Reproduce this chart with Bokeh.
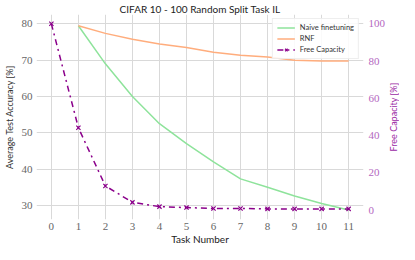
import math
from bokeh.plotting import figure
from bokeh.models import Range1d, LinearAxis, FixedTicker, Label
from bokeh.embed import file_html
from bokeh.resources import INLINE

tasks = list(range(12))
tasks_from_1 = list(range(1, 12))
naive_finetuning = [79.5, 69.0, 60.0, 52.5, 47.0, 42.0, 37.3, 35.0, 32.6, 30.5, 28.7]
rnf = [79.5, 77.4, 75.8, 74.5, 73.5, 72.2, 71.4, 70.9, 70.0, 69.8, 69.8]
free_capacity = [100, 44.2, 13.0, 4.2, 1.9, 1.4, 0.9, 0.9, 0.7, 0.7, 0.7, 0.7]
left_ticks = [30, 40, 50, 60, 70, 80]
right_ticks = [0, 20, 40, 60, 80, 100]

SANS = "Lato"
SERIF = "Liberation Serif"
PURPLE = "#8b008b"
PURPLE_LIGHT = "#b467c0"

x_range = Range1d(-0.55, 11.55)
y_range = Range1d(26.1, 82.6)

p = figure(width=399, height=244, output_backend="svg", toolbar_location=None,
           x_range=x_range, y_range=y_range,
           title="CIFAR 10 - 100 Random Split Task IL",
           min_border_left=32, min_border_right=0, min_border_top=0, min_border_bottom=0)
p.extra_y_ranges = {"cap": Range1d(-5, 105)}

p.title.text_font = SANS
p.title.text_font_size = "10px"
p.title.text_font_style = "normal"
p.title.align = "center"
p.title.text_color = "#222222"
p.title.standoff = 0
p.title.offset = 0

p.outline_line_color = None
p.background_fill_color = "white"

# grids
p.xgrid.ticker = FixedTicker(ticks=tasks)
p.ygrid.ticker = FixedTicker(ticks=left_ticks)
p.xgrid.grid_line_color = "#d9d9d9"
p.ygrid.grid_line_color = "#d9d9d9"
p.xgrid.grid_line_width = 1
p.ygrid.grid_line_width = 1


def style_axis(ax):
    ax.axis_label_text_font = SANS
    ax.axis_label_text_font_style = "normal"
    ax.major_label_text_font = SERIF
    ax.major_label_text_font_size = "11px"
    ax.axis_line_color = None
    ax.major_tick_line_color = None
    ax.minor_tick_line_color = None
    ax.major_tick_out = 0
    ax.major_tick_in = 0
    ax.minor_tick_out = 0
    ax.minor_tick_in = 0


# x axis (label drawn in the panel below)
xa = p.xaxis[0]
style_axis(xa)
xa.ticker = FixedTicker(ticks=tasks)
xa.major_label_text_color = "#666666"
xa.major_label_standoff = 3

# left y axis
ya = p.yaxis[0]
style_axis(ya)
ya.ticker = FixedTicker(ticks=left_ticks)
ya.axis_label = "Average Test Accuracy [%]"
ya.axis_label_text_font_size = "9px"
ya.axis_label_text_color = "#333333"
ya.axis_label_standoff = 4
ya.major_label_text_color = "#666666"
ya.major_label_standoff = 4

# right y axis (label drawn in the panel right of it)
ra = LinearAxis(y_range_name="cap", ticker=FixedTicker(ticks=right_ticks))
style_axis(ra)
ra.major_label_text_color = PURPLE_LIGHT
ra.major_label_standoff = 5
p.add_layout(ra, "right")

p.line(tasks_from_1, naive_finetuning, color="#8ee39b", line_width=1.5, legend_label="Naive finetuning")
p.line(tasks_from_1, rnf, color="#ffad7d", line_width=1.5, legend_label="RNF")
p.line(tasks, free_capacity, y_range_name="cap", color=PURPLE, line_width=1.5,
       line_dash="dashdot", legend_label="Free Capacity")
p.scatter(tasks, free_capacity, y_range_name="cap", marker="x", size=6, line_color=PURPLE,
          line_width=1.2, legend_label="Free Capacity")

x_mid = (x_range.start + x_range.end) / 2
y_mid = (y_range.start + y_range.end) / 2

p.add_layout(Label(x=x_mid, y=0, y_units="screen", text="Task Number",
                   text_font=SANS, text_font_size="10px", text_color="#222222",
                   text_align="center", text_baseline="bottom"), "below")
p.add_layout(Label(x=-1, x_units="screen", y=y_mid, text="Free Capacity [%]",
                   angle=math.pi / 2, text_font=SANS, text_font_size="9px",
                   text_color="#9b2aa5", text_align="center", text_baseline="top"), "right")

lg = p.legend[0]
lg.location = "top_right"
lg.label_text_font = SANS
lg.label_text_font_size = "7.5px"
lg.label_text_color = "#333333"
lg.glyph_width = 18
lg.glyph_height = 9
lg.label_height = 9
lg.spacing = 2
lg.padding = 4
lg.margin = 4
lg.label_standoff = 5
lg.border_line_color = "#dddddd"
lg.background_fill_alpha = 0.85

open("out.html", "w").write(file_html(p, INLINE))
